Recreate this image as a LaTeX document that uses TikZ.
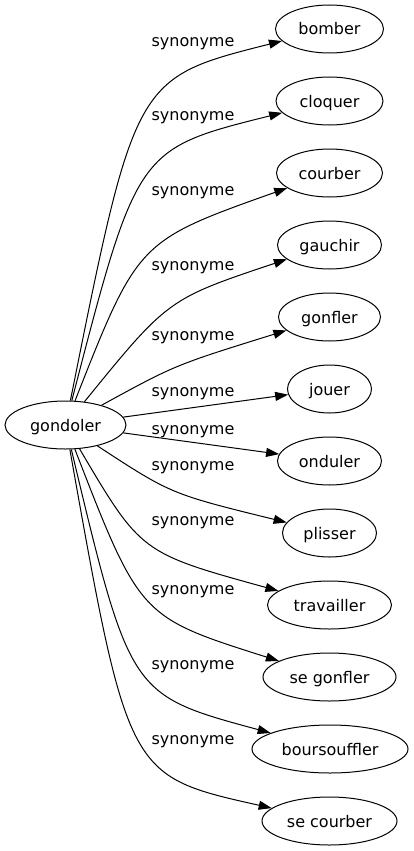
\documentclass[tikz,border=0pt]{standalone}
\usepackage{fontspec}
\setmainfont{DejaVu Sans}
\usetikzlibrary{arrows.meta,shapes.geometric}
\begin{document}
\begin{tikzpicture}[x=1pt,y=-1pt,
  every node/.style={font=\fontsize{16pt}{19pt}\selectfont},
  word/.style={draw, ellipse, line width=1pt, inner sep=0pt, minimum height=48pt, text height=15pt, text depth=3pt},
  lab/.style={inner sep=0pt},
  link/.style={line width=1pt, -{Triangle[length=13pt,width=9pt]}}
]
\useasboundingbox (0,0) rectangle (413,851);
\node[word, minimum width=121pt] (g) at (65.5,425) {gondoler};
\node[word, minimum width=108pt] (t1) at (329.5,29) {bomber};
\node[word, minimum width=107pt] (t2) at (329.5,101) {cloquer};
\node[word, minimum width=106pt] (t3) at (329.5,173) {courber};
\node[word, minimum width=104pt] (t4) at (329.5,245) {gauchir};
\node[word, minimum width=102pt] (t5) at (329.5,317) {gonfler};
\node[word, minimum width=84pt] (t6) at (329.5,389) {jouer};
\node[word, minimum width=104pt] (t7) at (329.5,461) {onduler};
\node[word, minimum width=94pt] (t8) at (329.5,533) {plisser};
\node[word, minimum width=124pt] (t9) at (329.5,605) {travailler};
\node[word, minimum width=133pt] (t10) at (329.5,677) {se gonfler};
\node[word, minimum width=156pt] (t11) at (330,749) {boursouffler};
\node[word, minimum width=135pt] (t12) at (329.5,821) {se courber};

\node[lab] (l1) at (193,44) {synonyme};
\node[lab] (l2) at (193,118) {synonyme};
\node[lab] (l3) at (193,193) {synonyme};
\node[lab] (l4) at (193,268) {synonyme};
\node[lab] (l5) at (193,338) {synonyme};
\node[lab] (l6) at (193,394) {synonyme};
\node[lab] (l7) at (193,432) {synonyme};
\node[lab] (l8) at (193,468) {synonyme};
\node[lab] (l9) at (193,523) {synonyme};
\node[lab] (l10) at (193,592) {synonyme};
\node[lab] (l11) at (193,667) {synonyme};
\node[lab] (l12) at (193,742) {synonyme};

\draw[link] (g) .. controls (135,78) .. (t1);
\draw[link] (g) .. controls (137,149) .. (t2);
\draw[link] (g) .. controls (138,241) .. (t3);
\draw[link] (g) .. controls (168,299) .. (t4);
\draw[link] (g) .. controls (175,365) .. (t5);
\draw[link] (g) -- (t6);
\draw[link] (g) -- (t7);
\draw[link] (g) .. controls (171,494) .. (t8);
\draw[link] (g) .. controls (141,553) .. (t9);
\draw[link] (g) .. controls (140,617) .. (t10);
\draw[link] (g) .. controls (130,695) .. (t11);
\draw[link] (g) .. controls (128,776) .. (t12);
\end{tikzpicture}
\end{document}
